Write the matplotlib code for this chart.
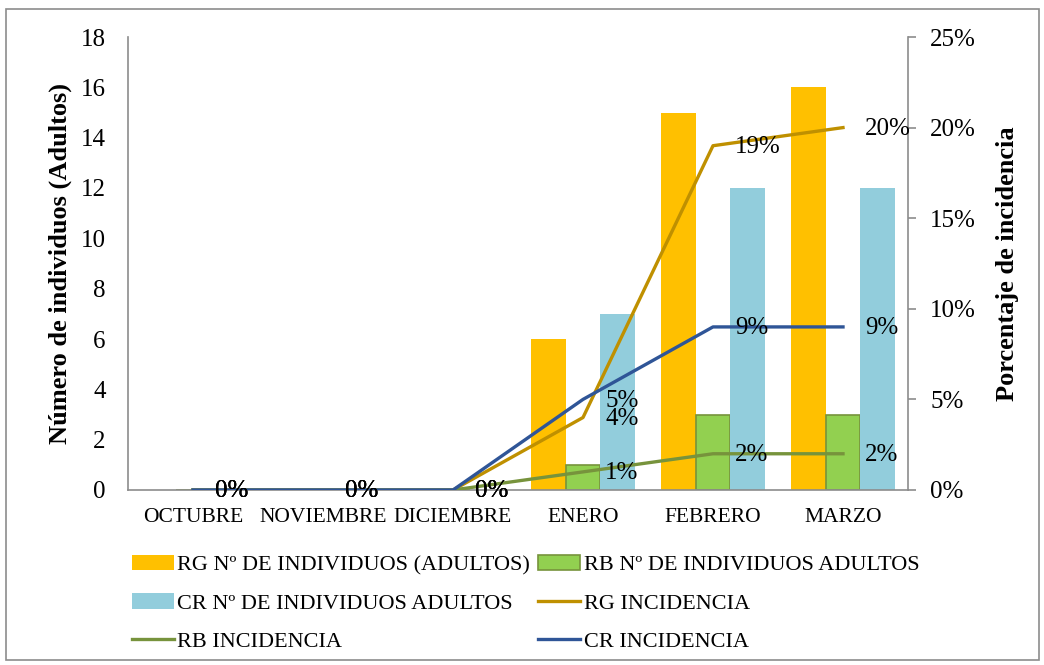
import numpy as np
import matplotlib.pyplot as plt
from matplotlib.patches import Rectangle
from matplotlib.ticker import PercentFormatter

plt.rcParams['font.family'] = ['Liberation Serif', 'DejaVu Serif']

# Datos
meses = ['OCTUBRE', 'NOVIEMBRE', 'DICIEMBRE', 'ENERO', 'FEBRERO', 'MARZO']
rg_adultos = [0, 0, 0, 6, 15, 16]
rb_adultos = [0, 0, 0, 1, 3, 3]
cr_adultos = [0, 0, 0, 7, 12, 12]
rg_incidencia = [0, 0, 0, 0.04, 0.19, 0.20]
rb_incidencia = [0, 0, 0, 0.01, 0.02, 0.02]
cr_incidencia = [0, 0, 0, 0.05, 0.09, 0.09]

# Colores
c_rg_bar = '#FFC000'
c_rb_bar = '#92D050'
c_cr_bar = '#92CDDC'
c_rg_lin = '#BF9000'
c_rb_lin = '#77933C'
c_cr_lin = '#2F5597'
gris = '#8C8C8C'

fig = plt.figure(figsize=(10.44, 6.65), dpi=100)
fig.patches.append(Rectangle((6 / 1044, 5 / 665), 1033 / 1044, 651 / 665,
                             transform=fig.transFigure, fill=False,
                             edgecolor=gris, linewidth=1.2))

ax = fig.add_axes([128 / 1044, 175 / 665, 780 / 1044, 453 / 665])
x = np.arange(len(meses))
w = 0.265

ax.bar(x - w, rg_adultos, w, color=c_rg_bar, label='RG Nº DE INDIVIDUOS (ADULTOS)')
ax.bar(x, rb_adultos, w, color=c_rb_bar, edgecolor=c_rb_lin, linewidth=1.2,
       label='RB Nº DE INDIVIDUOS ADULTOS')
ax.bar(x + w, cr_adultos, w, color=c_cr_bar, label='CR Nº DE INDIVIDUOS ADULTOS')

ax.set_xlim(-0.5, len(meses) - 0.5)
ax.set_ylim(0, 18)
ax.set_yticks(range(0, 19, 2))
ax.set_xticks(x)
ax.set_xticklabels(meses, fontsize=15.5)
ax.tick_params(axis='x', length=0, pad=13)
ax.tick_params(axis='y', length=0, pad=16, labelsize=18)
for s in ['top', 'right']:
    ax.spines[s].set_visible(False)
for s in ['left', 'bottom']:
    ax.spines[s].set_color(gris)
    ax.spines[s].set_linewidth(1.2)
ax.set_ylabel('Número de individuos (Adultos)', fontsize=19, fontweight='bold', labelpad=6)

# Eje secundario: incidencia
ax2 = ax.twinx()
series = [(rg_incidencia, c_rg_lin, 'RG INCIDENCIA'),
          (rb_incidencia, c_rb_lin, 'RB INCIDENCIA'),
          (cr_incidencia, c_cr_lin, 'CR INCIDENCIA')]
for vals, col, lab in series:
    ax2.plot(x, vals, color=col, linewidth=2.4, label=lab)
    for xi, v in zip(x, vals):
        ax2.annotate(f'{v * 100:.0f}%', (xi, v), xytext=(16, -1), textcoords='offset points',
                     ha='left', va='center', fontsize=18)

ax2.set_ylim(0, 0.25)
ax2.set_yticks(np.arange(0, 0.26, 0.05))
ax2.yaxis.set_major_formatter(PercentFormatter(1, decimals=0))
ax2.tick_params(axis='y', length=6, width=1.2, color=gris, pad=10, labelsize=18)
for s in ['top', 'left', 'bottom']:
    ax2.spines[s].set_visible(False)
ax2.spines['right'].set_color(gris)
ax2.spines['right'].set_linewidth(1.2)
ax2.set_ylabel('Porcentaje de incidencia', fontsize=19, fontweight='bold', labelpad=14)

# Leyenda (orden por filas como en el original)
h1, l1 = ax.get_legend_handles_labels()
h2, l2 = ax2.get_legend_handles_labels()
orden_h = [h1[0], h1[2], h2[1], h1[1], h2[0], h2[2]]
orden_l = [l1[0], l1[2], l2[1], l1[1], l2[0], l2[2]]
fig.legend(orden_h, orden_l, ncol=2, loc='upper left', bbox_to_anchor=(123 / 1044, 1 - 546 / 665),
           frameon=False, fontsize=16, handlelength=1.9, handletextpad=0.15,
           columnspacing=0.35, labelspacing=0.8, borderaxespad=0)

plt.savefig('out.png', dpi=100)
